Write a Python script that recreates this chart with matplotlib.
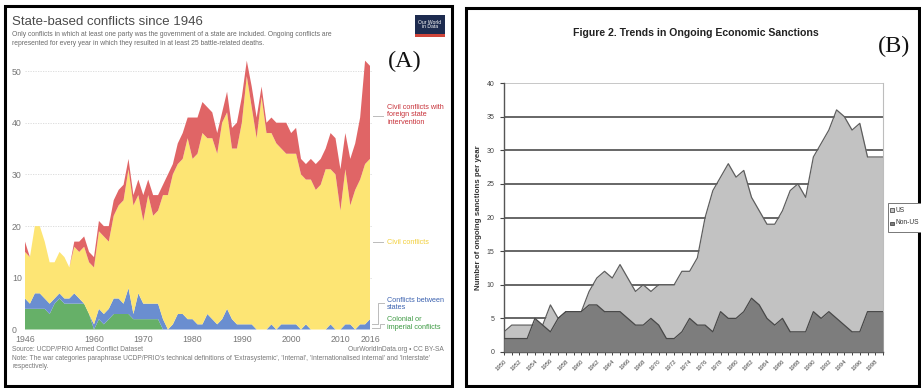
import numpy as np
import matplotlib.pyplot as plt
from matplotlib.patches import Rectangle
from matplotlib.lines import Line2D

plt.rcParams['font.family'] = ['Liberation Sans', 'DejaVu Sans']

W, H = 921, 388

# --- State-based conflicts by type, 1946-2016 ---
years_a = np.arange(1946, 2017)
colonial = [4, 4, 4, 4, 4, 3, 5, 6, 5, 5,
            5, 5, 5, 3, 0, 2, 1, 2, 3, 3,
            3, 3, 2, 2, 2, 2, 2, 2, 0, 0,
            0, 0, 0, 0, 0, 0, 0, 0, 0, 0,
            0, 0, 0, 0, 0, 0, 0, 0, 0, 0,
            0, 0, 0, 0, 0, 0, 0, 0, 0, 0,
            0, 0, 0, 0, 0, 0, 0, 0, 0, 0, 0]
interstate = [2, 1, 3, 3, 2, 2, 1, 1, 1, 1,
              2, 1, 0, 0, 1, 2, 2, 2, 3, 3,
              2, 5, 1, 5, 3, 3, 3, 3, 2, 0,
              1, 3, 3, 2, 2, 1, 1, 3, 2, 1,
              2, 4, 2, 1, 1, 1, 1, 0, 0, 0,
              1, 0, 1, 1, 1, 1, 0, 1, 0, 0,
              0, 0, 1, 0, 0, 1, 1, 0, 1, 1, 2]
civil = [9, 9, 13, 13, 11, 8, 7, 8, 8, 6,
         9, 9, 11, 10, 11, 15, 15, 13, 16, 18,
         20, 23, 21, 19, 16, 21, 17, 18, 24, 26,
         29, 29, 30, 35, 31, 33, 37, 34, 35, 33,
         38, 38, 33, 34, 39, 48, 42, 37, 45, 38,
         37, 36, 34, 33, 33, 33, 30, 28, 29, 27,
         28, 31, 30, 30, 23, 30, 23, 27, 28, 31, 31]
intervention = [2, 0, 0, 0, 0, 0, 0, 0, 0, 0,
                1, 2, 2, 2, 2, 2, 2, 3, 3, 3,
                3, 2, 2, 3, 5, 3, 4, 3, 2, 4,
                2, 4, 5, 4, 8, 7, 6, 6, 5, 4,
                2, 4, 4, 5, 5, 3, 4, 4, 2, 2,
                3, 4, 5, 6, 4, 5, 3, 3, 4, 5,
                5, 4, 7, 7, 8, 7, 9, 9, 12, 20, 18]

# --- Ongoing economic sanctions, 1950-1999 ---
years_b = np.arange(1950, 2000)
us = [3, 4, 4, 4, 4, 4, 7, 5, 6, 6,
      6, 9, 11, 12, 11, 13, 11, 9, 10, 9,
      10, 10, 10, 12, 12, 14, 20, 24, 26, 28,
      26, 27, 23, 21, 19, 19, 21, 24, 25, 23,
      29, 31, 33, 36, 35, 33, 34, 29, 29, 29]
non_us = [2, 2, 2, 2, 5, 4, 3, 5, 6, 6,
          6, 7, 7, 6, 6, 6, 5, 4, 4, 5,
          4, 2, 2, 3, 5, 4, 4, 3, 6, 5,
          5, 6, 8, 7, 5, 4, 5, 3, 3, 3,
          6, 5, 6, 5, 4, 3, 3, 6, 6, 6]

a_labels = ['Colonial or\nimperial conflicts', 'Conflicts between\nstates',
            'Civil conflicts', 'Civil conflicts with\nforeign state\nintervention']
a_colors = ['#66b068', '#6a8ed0', '#fde574', '#e06566']
a_text_colors = ['#3e9a44', '#3d63b0', '#f2cf3a', '#c8323a']


def fx(x):
    return x / W


def fy(y):
    return 1 - y / H


def px_axes(fig, left, top, right, bottom):
    return fig.add_axes([fx(left), fy(bottom), (right - left) / W, (bottom - top) / H])


fig = plt.figure(figsize=(W / 100, H / 100), dpi=100)

# panel frames
for x0, y0, x1, y1 in [(5, 6, 452, 386), (466, 8, 919, 386)]:
    fig.add_artist(Rectangle((fx(x0), fy(y1)), fx(x1 - x0), (y1 - y0) / H,
                             transform=fig.transFigure, fill=False,
                             edgecolor='black', lw=2.2))

# ================= panel A =================
ax = px_axes(fig, 25, 55.5, 370, 329.5)
ax.stackplot(years_a, colonial, interstate, civil, intervention,
             colors=a_colors, linewidth=0)
ax.set_xlim(1946, 2016)
ax.set_ylim(0, 53)
for v in range(10, 60, 10):
    ax.plot([1946, 2016.5], [v, v], color='#d8d8d8', lw=0.6, ls=(0, (1.5, 1.5)),
            zorder=0, clip_on=False)
ax.set_yticks(range(0, 60, 10))
ax.set_yticklabels([str(v) for v in range(0, 60, 10)], ha='left')
ax.set_xticks([1946, 1960, 1970, 1980, 1990, 2000, 2010, 2016])
ax.tick_params(axis='y', length=0, pad=9.4, labelsize=6.3, labelcolor='#777777')
ax.tick_params(axis='x', length=0, pad=4, labelsize=6.3, labelcolor='#777777')
for s in ax.spines.values():
    s.set_visible(False)
ax.set_facecolor('none')

fig.text(fx(12), fy(22), 'State-based conflicts since 1946', fontsize=9.5,
         color='#4a4a4a', va='center')
fig.text(fx(12), fy(35), 'Only conflicts in which at least one party was the government '
         'of a state are included. Ongoing conflicts are', fontsize=4.9,
         color='#6a6a6a', va='center')
fig.text(fx(12), fy(43.5), 'represented for every year in which they resulted in at '
         'least 25 battle-related deaths.', fontsize=4.9, color='#6a6a6a', va='center')

# logo
fig.add_artist(Rectangle((fx(415), fy(37)), fx(30), 22 / H, transform=fig.transFigure,
                         facecolor='#1d2b4f', edgecolor='none'))
fig.add_artist(Rectangle((fx(415), fy(37)), fx(30), 3 / H, transform=fig.transFigure,
                         facecolor='#d0453a', edgecolor='none'))
fig.text(fx(430), fy(24.5), 'Our World\nin Data', fontsize=3.6, color='white',
         ha='center', va='center', linespacing=1.0)

fig.text(fx(405), fy(61), '(A)', fontsize=17.5, family='Liberation Serif',
         ha='center', va='center', color='#111111')

# series labels on the right
label_pos = [(384, 323.5), (384, 304), (384, 242), (384, 115)]
for (lx, ly), lab, col in zip(label_pos, a_labels, a_text_colors):
    fig.text(fx(lx + 3), fy(ly), lab, fontsize=5.2, color=col, va='center',
             linespacing=1.15)
conn = [[(373, 116), (383, 116)],
        [(373, 242), (383, 242)],
        [(372, 324), (378, 324), (378, 303), (384, 303)],
        [(372, 328), (380, 328), (380, 324), (384, 324)]]
for pts in conn:
    xs, ys = zip(*pts)
    fig.add_artist(Line2D([fx(x) for x in xs], [fy(y) for y in ys],
                          transform=fig.transFigure, color='#bbbbbb', lw=0.7))

fig.text(fx(12), fy(349.5), 'Source: UCDP/PRIO Armed Conflict Dataset', fontsize=4.8,
         color='#777777', va='center')
fig.text(fx(444), fy(349.5), 'OurWorldInData.org \u2022 CC BY-SA', fontsize=4.8,
         color='#777777', va='center', ha='right')
fig.text(fx(12), fy(358.5), "Note: The war categories paraphrase UCDP/PRIO's technical "
         "definitions of 'Extrasystemic', 'Internal', 'Internationalised internal' "
         "and 'Interstate'", fontsize=4.8, color='#777777', va='center')
fig.text(fx(12), fy(367), 'respectively.', fontsize=4.8, color='#777777', va='center')

# ================= panel B =================
bx = px_axes(fig, 504, 83, 883, 352)
bx.set_xlim(1950, 1999)
bx.set_ylim(0, 40)
for v in range(5, 40, 5):
    bx.axhline(v, color='#5a5a5a', lw=1.3, zorder=0)
bx.axhline(40, color='#bdbdbd', lw=1.2, zorder=0)
bx.fill_between(years_b, us, color='#c2c2c2', lw=0, zorder=1)
bx.plot(years_b, us, color='#5e5e5e', lw=0.9, zorder=2)
bx.fill_between(years_b, non_us, color='#7d7d7d', lw=0, zorder=3)
bx.plot(years_b, non_us, color='#484848', lw=0.9, zorder=4)

bx.set_yticks(range(0, 45, 5))
bx.set_xticks(years_b[::2])
bx.set_xticks(years_b, minor=True)
bx.set_xticklabels([str(y) for y in years_b[::2]], rotation=45, ha='right',
                   rotation_mode='anchor')
bx.tick_params(axis='y', length=3, width=0.8, color='#444444', pad=4,
               labelsize=5, labelcolor='#444444')
bx.tick_params(axis='x', which='both', length=2.5, width=0.7, color='#444444',
               direction='out', pad=2, labelsize=4.3, labelcolor='#444444')
bx.spines['top'].set_visible(False)
bx.spines['right'].set_color('#bdbdbd')
bx.spines['left'].set_color('#555555')
bx.spines['bottom'].set_color('#444444')
bx.spines['left'].set_linewidth(1.0)
bx.spines['bottom'].set_linewidth(1.0)

fig.text(fx(478), fy(218), 'Number of ongoing sanctions per year', rotation=90,
         fontsize=5.7, fontweight='bold', color='#333333', ha='center', va='center')
fig.text(fx(696), fy(33), 'Figure 2. Trends in Ongoing Economic Sanctions',
         fontsize=7.6, fontweight='bold', color='#222222', ha='center', va='center')
fig.text(fx(894), fy(46), '(B)', fontsize=17.5, family='Liberation Serif',
         ha='center', va='center', color='#111111')

# legend box
fig.add_artist(Rectangle((fx(888), fy(232)), fx(40), 29 / H, transform=fig.transFigure,
                         facecolor='white', edgecolor='#777777', lw=0.7))
for ly, lab, col in [(210, 'US', '#c2c2c2'), (223, 'Non-US', '#7d7d7d')]:
    fig.add_artist(Rectangle((fx(890), fy(ly + 2)), fx(3.5), 3.5 / H,
                             transform=fig.transFigure, facecolor=col,
                             edgecolor='#333333', lw=0.5))
    fig.text(fx(895), fy(ly), lab, fontsize=4.8, color='#333333', va='center')

fig.savefig('out.png', dpi=100)
